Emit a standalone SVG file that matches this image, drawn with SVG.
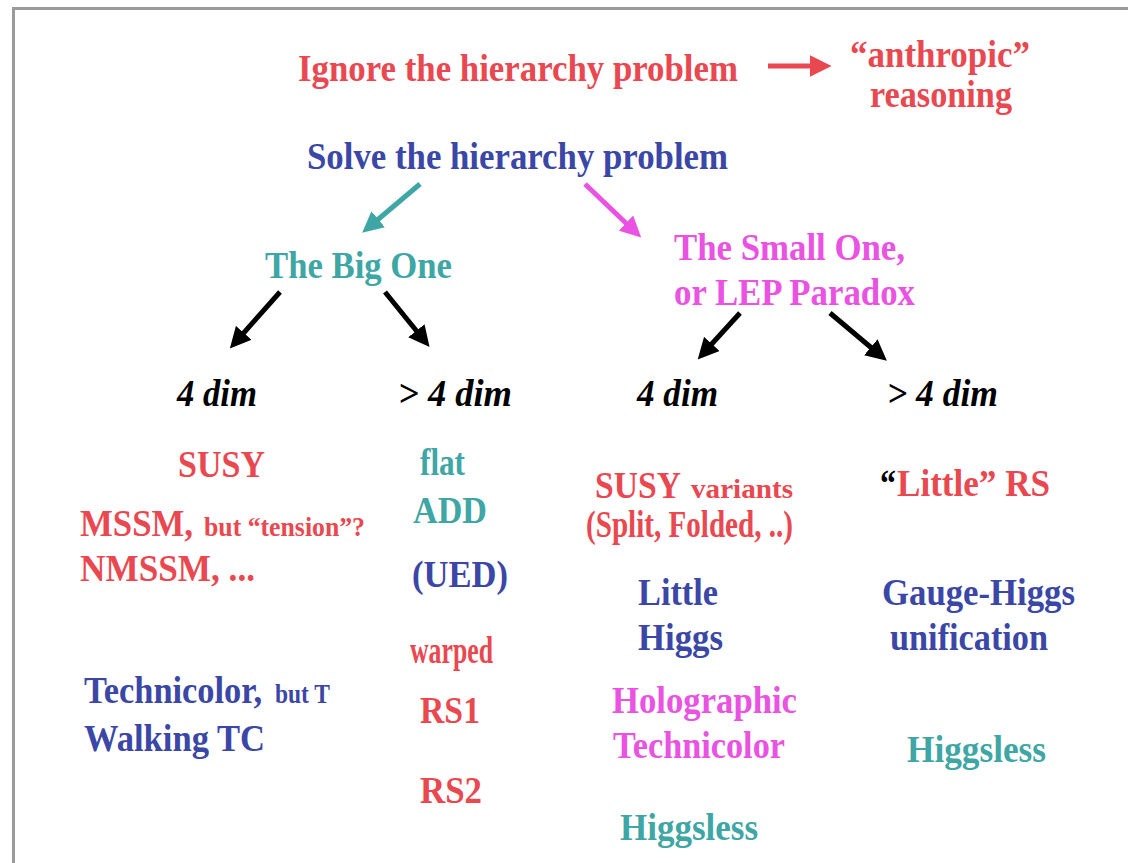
<svg xmlns="http://www.w3.org/2000/svg" width="1128" height="863" viewBox="0 0 1128 863">
<defs>
<style>
text{font-family:"Liberation Serif","Times New Roman",serif;font-weight:bold;font-size:38px}
.r{fill:#ea4850}.b{fill:#3b47a6}.t{fill:#3fa6a6}.m{fill:#ea52e2}.k{fill:#000}
.i{font-style:italic}
.s{font-size:27px}
.arr{stroke-width:5;fill:none}
</style>
<marker id="hr" viewBox="0 0 10 10" refX="2" refY="5" markerWidth="4.4" markerHeight="4.4" orient="auto" markerUnits="strokeWidth"><path d="M0,0L10,5L0,10z" fill="#ea4850"/></marker>
<marker id="ht" viewBox="0 0 10 10" refX="2" refY="5" markerWidth="4.2" markerHeight="4.2" orient="auto" markerUnits="strokeWidth"><path d="M0,0L10,5L0,10z" fill="#3fa6a6"/></marker>
<marker id="hm" viewBox="0 0 10 10" refX="2" refY="5" markerWidth="4.2" markerHeight="4.2" orient="auto" markerUnits="strokeWidth"><path d="M0,0L10,5L0,10z" fill="#ea52e2"/></marker>
<marker id="hk" viewBox="0 0 10 10" refX="2" refY="5" markerWidth="4.2" markerHeight="4.2" orient="auto" markerUnits="strokeWidth"><path d="M0,0L10,5L0,10z" fill="#000"/></marker>
</defs>
<rect width="1128" height="863" fill="#fff"/>
<path d="M13.5,863V8.5H1128" fill="none" stroke="#9a9a9a" stroke-width="3"/>

<g id="connectors">
<line class="arr" x1="768" y1="66" x2="814" y2="66" stroke="#ea4850" stroke-width="6" marker-end="url(#hr)"/>
<line class="arr" x1="420" y1="184" x2="375" y2="222" stroke="#3fa6a6" marker-end="url(#ht)"/>
<line class="arr" x1="585" y1="184" x2="629" y2="226" stroke="#ea52e2" marker-end="url(#hm)"/>
<line class="arr" x1="280" y1="292" x2="241" y2="336" stroke="#000" marker-end="url(#hk)"/>
<line class="arr" x1="385" y1="292" x2="419" y2="334" stroke="#000" marker-end="url(#hk)"/>
<line class="arr" x1="740" y1="313" x2="709" y2="347" stroke="#000" marker-end="url(#hk)"/>
<line class="arr" x1="830" y1="313" x2="874" y2="350" stroke="#000" marker-end="url(#hk)"/>
</g>

<g id="ignore"><text class="r" x="298" y="81" textLength="440" lengthAdjust="spacingAndGlyphs">Ignore the hierarchy problem</text></g>
<g id="anthropic">
<text class="r" x="850" y="67" textLength="180" lengthAdjust="spacingAndGlyphs">“anthropic”</text>
<text class="r" x="870" y="107" textLength="142" lengthAdjust="spacingAndGlyphs">reasoning</text>
</g>
<g id="solve"><text class="b" x="307" y="169" textLength="421" lengthAdjust="spacingAndGlyphs">Solve the hierarchy problem</text></g>
<g id="big-one"><text class="t" x="265" y="278" textLength="187" lengthAdjust="spacingAndGlyphs">The Big One</text></g>
<g id="small-one">
<text class="m" x="674" y="260" textLength="231" lengthAdjust="spacingAndGlyphs">The Small One,</text>
<text class="m" x="674" y="305" textLength="241" lengthAdjust="spacingAndGlyphs">or LEP Paradox</text>
</g>

<g id="big-4dim"><text class="k i" x="177" y="406" textLength="80" lengthAdjust="spacingAndGlyphs">4 dim</text></g>
<g id="big-gt4dim"><text class="k i" x="398" y="406" textLength="114" lengthAdjust="spacingAndGlyphs">&gt; 4 dim</text></g>
<g id="small-4dim"><text class="k i" x="637" y="406" textLength="81" lengthAdjust="spacingAndGlyphs">4 dim</text></g>
<g id="small-gt4dim"><text class="k i" x="887" y="406" textLength="111" lengthAdjust="spacingAndGlyphs">&gt; 4 dim</text></g>

<g id="susy"><text class="r" x="178" y="477" textLength="87" lengthAdjust="spacingAndGlyphs">SUSY</text></g>
<g id="mssm">
<text class="r" x="80" y="536" textLength="113" lengthAdjust="spacingAndGlyphs">MSSM,</text>
<text class="r s" x="204" y="536" textLength="161" lengthAdjust="spacingAndGlyphs">but “tension”?</text>
</g>
<g id="nmssm"><text class="r" x="80" y="581" textLength="175" lengthAdjust="spacingAndGlyphs">NMSSM, ...</text></g>
<g id="technicolor">
<text class="b" x="84" y="703" textLength="178" lengthAdjust="spacingAndGlyphs">Technicolor,</text>
<text class="b s" x="275" y="703" textLength="55" lengthAdjust="spacingAndGlyphs">but T</text>
</g>
<g id="walking"><text class="b" x="84" y="751" textLength="181" lengthAdjust="spacingAndGlyphs">Walking TC</text></g>

<g id="flat"><text class="t" x="420" y="475" font-size="24" textLength="45" lengthAdjust="spacingAndGlyphs">flat</text></g>
<g id="add"><text class="t" x="413" y="523" textLength="74" lengthAdjust="spacingAndGlyphs">ADD</text></g>
<g id="ued"><text class="b" x="412" y="587" textLength="96" lengthAdjust="spacingAndGlyphs">(UED)</text></g>
<g id="warped"><text class="r" x="410" y="663" font-size="24" textLength="83" lengthAdjust="spacingAndGlyphs">warped</text></g>
<g id="rs1"><text class="r" x="420" y="723" textLength="60" lengthAdjust="spacingAndGlyphs">RS1</text></g>
<g id="rs2"><text class="r" x="420" y="803" textLength="62" lengthAdjust="spacingAndGlyphs">RS2</text></g>

<g id="susy-variants">
<text class="r" x="595" y="498" textLength="86" lengthAdjust="spacingAndGlyphs">SUSY</text>
<text class="r s" x="691" y="498" textLength="102" lengthAdjust="spacingAndGlyphs">variants</text>
<text class="r" x="586" y="537" font-size="30" textLength="207" lengthAdjust="spacingAndGlyphs">(Split, Folded, ..)</text>
</g>
<g id="little-higgs">
<text class="b" x="638" y="605" textLength="80" lengthAdjust="spacingAndGlyphs">Little</text>
<text class="b" x="638" y="650" textLength="85" lengthAdjust="spacingAndGlyphs">Higgs</text>
</g>
<g id="holographic">
<text class="m" x="612" y="713" textLength="185" lengthAdjust="spacingAndGlyphs">Holographic</text>
<text class="m" x="613" y="758" textLength="172" lengthAdjust="spacingAndGlyphs">Technicolor</text>
</g>
<g id="higgsless-4"><text class="t" x="620" y="840" textLength="138" lengthAdjust="spacingAndGlyphs">Higgsless</text></g>

<g id="little-rs">
<text class="k" x="880" y="496" textLength="16" lengthAdjust="spacingAndGlyphs">“</text>
<text class="r" x="897" y="496" textLength="153" lengthAdjust="spacingAndGlyphs">Little” RS</text>
</g>
<g id="gauge-higgs">
<text class="b" x="882" y="605" textLength="193" lengthAdjust="spacingAndGlyphs">Gauge-Higgs</text>
<text class="b" x="890" y="650" textLength="158" lengthAdjust="spacingAndGlyphs">unification</text>
</g>
<g id="higgsless-5"><text class="t" x="907" y="762" textLength="139" lengthAdjust="spacingAndGlyphs">Higgsless</text></g>
</svg>
